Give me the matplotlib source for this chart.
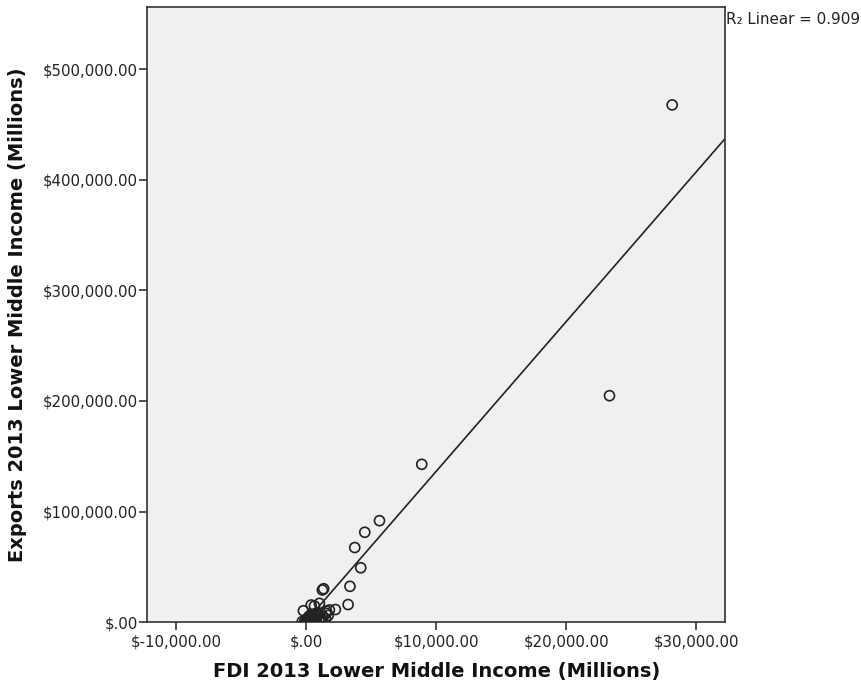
import matplotlib
matplotlib.use("Agg")
import matplotlib.pyplot as plt
from matplotlib.ticker import FuncFormatter


# ------------------ DATA ------------------

# FDI 2013, lower middle income countries (millions USD)
fdi = [
    28150, 23330, 8890, 5640, 4510, 3740, 4200, 3370, 3230,
    1350, 1250, 2250, 1790, 1560, 1020, 640, 390, -210, 1540,
    0, 100, 200, 350, -100, 500, 700, 900, 1100, 1300,
    50, 250, 400, 600, 800, 150, -300, 300, 1000, 650,
    -50, 200, 450, 1200, 750, 20, 80, 120, 1500, 1700,
]

# Exports 2013, lower middle income countries (millions USD)
exports = [
    467900, 204800, 142700, 91700, 81200, 67400, 49100, 32300, 15800,
    30100, 29000, 11300, 10900, 9900, 16900, 14500, 15400, 10200, 7900,
    500, 1200, 300, 2500, 800, 4000, 2000, 6000, 3500, 5000,
    3000, 5500, 7000, 1000, 8000, 200, 400, 1800, 900, 6500,
    100, 4500, 3200, 1500, 4800, 50, 600, 2000, 3000, 6000,
]

# linear fit shown on the chart
fit_slope = 13.55
fit_intercept = 830
r2_text = "R\u2082 Linear = 0.909"

x_ticks = [-10000, 0, 10000, 20000, 30000]
y_ticks = [0, 100000, 200000, 300000, 400000, 500000]
x_range = (-12200, 32250)
y_range = (0, 556500)


# ------------------ PLOTTING ------------------

def money(v, pos=None):
    if v == 0:
        return "$.00"
    if v < 0:
        return "$-{:,.2f}".format(-v)
    return "${:,.2f}".format(v)


fig = plt.figure(figsize=(8.61, 6.88), dpi=100)
ax = fig.add_axes([0.1713, 0.0959, 0.6713, 0.8939])
ax.set_facecolor("#f0f0f0")

ax.scatter(fdi, exports, s=52, facecolors="none", edgecolors="#222222",
           linewidths=1.2, zorder=3)

xs = list(x_range)
ax.plot(xs, [fit_slope * x + fit_intercept for x in xs],
        color="#222222", linewidth=1.2, zorder=2)

ax.set_xlim(*x_range)
ax.set_ylim(*y_range)
ax.set_xticks(x_ticks)
ax.set_yticks(y_ticks)
ax.xaxis.set_major_formatter(FuncFormatter(money))
ax.yaxis.set_major_formatter(FuncFormatter(money))
ax.tick_params(axis="both", direction="out", length=6, width=1.2,
               color="#333333", labelsize=10.8, labelcolor="#222222", pad=3)
ax.tick_params(axis="y", pad=1)

for side in ax.spines.values():
    side.set_color("#333333")
    side.set_linewidth(1.2)

fig.text(726 / 861, 1 - 20 / 688, r2_text, fontsize=10.9, color="#222222",
         ha="left", va="center")

fig.text(436.5 / 861, 1 - 672 / 688, "FDI 2013 Lower Middle Income (Millions)",
         fontsize=14, fontweight="bold", color="#111111",
         ha="center", va="center")
fig.text(18 / 861, 1 - 314.5 / 688, "Exports 2013 Lower Middle Income (Millions)",
         fontsize=14, fontweight="bold", color="#111111",
         ha="center", va="center", rotation=90)

fig.savefig("out.png", dpi=100)
